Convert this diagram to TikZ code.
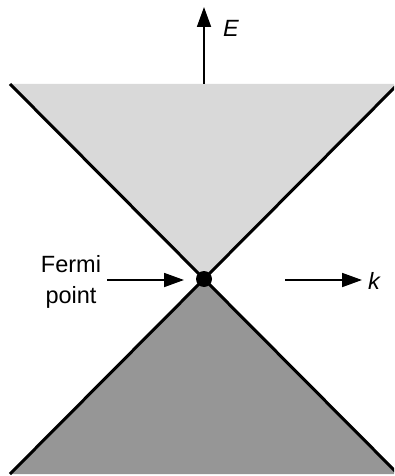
\documentclass[tikz,border=0pt]{standalone}
\usepackage{fontspec}
\setmainfont{Liberation Sans}
\usetikzlibrary{arrows.meta}
\definecolor{upper}{HTML}{D9D9D9}
\definecolor{lower}{HTML}{969696}
\tikzset{
  cone/.style={line width=3pt, line cap=butt},
  axis/.style={line width=1.8pt, -{Triangle[length=20pt,width=14pt]}},
  lab/.style={font=\fontsize{23.5}{28}\selectfont, inner sep=0pt},
}
\begin{document}
\begin{tikzpicture}[x=1pt,y=-1pt]
\useasboundingbox (0,0) rectangle (394,476);
\clip (0,0) rectangle (394,476);
\coordinate (apex) at (204,279);
\coordinate (tl) at (10,84);
\coordinate (tr) at (398,84);
\coordinate (bl) at (10,474);
\coordinate (br) at (398,474);
\fill[upper] (tl) -- (tr) -- (apex) -- cycle;
\fill[lower] (bl) -- (br) -- (apex) -- cycle;
\draw[cone] (tl) -- (apex) -- (br);
\draw[cone] (tr) -- (apex) -- (bl);
\node[circle, fill=black, minimum size=16pt, inner sep=0pt] (dot) at (apex) {};
\coordinate (ebase) at (204,84);
\coordinate (etip) at (204,7);
\draw[axis] (ebase) -- (etip);
\node[lab, font=\fontsize{23.5}{28}\selectfont\itshape] (E) at (231,28) {E};
\node[lab, align=center] (fermi) at (71,282) {Fermi\\[3pt]point};
\coordinate (fs) at (107,280);
\coordinate (fe) at (184,280);
\draw[axis] (fs) -- (fe);
\coordinate (ks) at (285,280);
\coordinate (ke) at (362,280);
\draw[axis] (ks) -- (ke);
\node[lab, font=\fontsize{23.5}{28}\selectfont\itshape] (k) at (374,281) {k};
\end{tikzpicture}
\end{document}
